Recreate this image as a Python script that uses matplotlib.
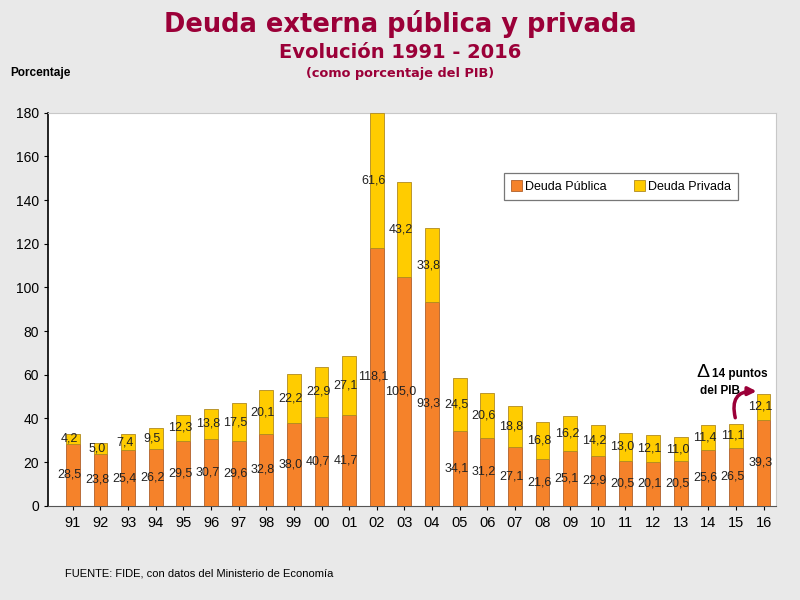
import matplotlib.pyplot as plt
import numpy as np

plt.rcParams['font.family'] = ['Liberation Sans', 'DejaVu Sans']

years = ['91', '92', '93', '94', '95', '96', '97', '98', '99', '00', '01', '02', '03',
         '04', '05', '06', '07', '08', '09', '10', '11', '12', '13', '14', '15', '16']
publica = [28.5, 23.8, 25.4, 26.2, 29.5, 30.7, 29.6, 32.8, 38.0, 40.7, 41.7, 118.1, 105.0,
           93.3, 34.1, 31.2, 27.1, 21.6, 25.1, 22.9, 20.5, 20.1, 20.5, 25.6, 26.5, 39.3]
privada = [4.2, 5.0, 7.4, 9.5, 12.3, 13.8, 17.5, 20.1, 22.2, 22.9, 27.1, 61.6, 43.2,
           33.8, 24.5, 20.6, 18.8, 16.8, 16.2, 14.2, 13.0, 12.1, 11.0, 11.4, 11.1, 12.1]
yticks = [0, 20, 40, 60, 80, 100, 120, 140, 160, 180]

c_pub = '#F5822A'
c_priv = '#FFCC00'
c_title = '#9B0038'

fig = plt.figure(figsize=(8, 6), dpi=100, facecolor='#E9E9E9')
ax = fig.add_axes([0.06, 0.157, 0.91, 0.655])
ax.set_facecolor('white')

x = np.arange(len(years))
pub = np.array(publica)
priv = np.array(privada)

ax.bar(x, pub, width=0.5, color=c_pub, edgecolor='#B0602A', linewidth=0.6,
       label='Deuda Pública', zorder=3)
ax.bar(x, priv, width=0.5, bottom=pub, color=c_priv, edgecolor='#B08A20', linewidth=0.6,
       label='Deuda Privada', zorder=3)

for xi, p, q in zip(x, pub, priv):
    ax.text(xi - 0.12, p / 2, f'{p:.1f}'.replace('.', ','), ha='center', va='center',
            fontsize=9, color='#222222', zorder=4)
    ax.text(xi - 0.12, p + q / 2, f'{q:.1f}'.replace('.', ','), ha='center', va='center',
            fontsize=9, color='#222222', zorder=4)

ax.set_xlim(-0.9, 25.45)
ax.set_ylim(0, 180)
ax.set_yticks(yticks)
ax.set_yticklabels([str(t) for t in yticks], fontsize=10)
ax.set_xticks(x)
ax.set_xticklabels(years, fontsize=10.5)
ax.tick_params(axis='x', length=3, pad=4)
ax.tick_params(axis='y', length=3)

for side in ['top', 'right']:
    ax.spines[side].set_color('#C8C8C8')
ax.spines['left'].set_color('black')
ax.spines['left'].set_linewidth(1.2)
ax.spines['bottom'].set_color('#555555')

leg = ax.legend(loc='upper left', bbox_to_anchor=(0.626, 0.847), ncol=2, fontsize=9,
                frameon=True, fancybox=False, edgecolor='#555555', handlelength=0.9,
                handleheight=0.9, columnspacing=2.2, handletextpad=0.2, borderpad=0.6,
                borderaxespad=0)
leg.get_frame().set_linewidth(0.9)

# anotacion del salto 2015 -> 2016
ax.annotate('', xy=(24.85, pub[25] + priv[25] + 1), xytext=(24, pub[24] + priv[24] + 1.5),
            arrowprops=dict(arrowstyle='-|>', color=c_title, lw=2.5,
                            connectionstyle='arc3,rad=-0.7', mutation_scale=12), zorder=5)
ax.text(22.8, 59, '\u0394', fontsize=14, ha='center', va='baseline')
ax.text(23.12, 59, '14 puntos', fontsize=8.5, fontweight='bold', ha='left', va='baseline')
ax.text(23.41, 51, 'del PIB', fontsize=8.5, fontweight='bold', ha='center', va='baseline')

fig.text(0.5, 0.947, 'Deuda externa pública y privada', ha='center', va='baseline',
         fontsize=18.5, fontweight='bold', color=c_title, family='DejaVu Sans')
fig.text(0.5, 0.903, 'Evolución 1991 - 2016', ha='center', va='baseline',
         fontsize=14, fontweight='bold', color=c_title, family='DejaVu Sans')
fig.text(0.5, 0.872, '(como porcentaje del PIB)', ha='center', va='baseline',
         fontsize=9.3, fontweight='bold', color=c_title, family='DejaVu Sans')
fig.text(0.013, 0.873, 'Porcentaje', ha='left', va='baseline', fontsize=8.5, fontweight='bold')
fig.text(0.081, 0.045, 'FUENTE: FIDE, con datos del Ministerio de Economía',
         ha='left', va='center', fontsize=8)

fig.savefig('out.png', dpi=100, facecolor=fig.get_facecolor())
